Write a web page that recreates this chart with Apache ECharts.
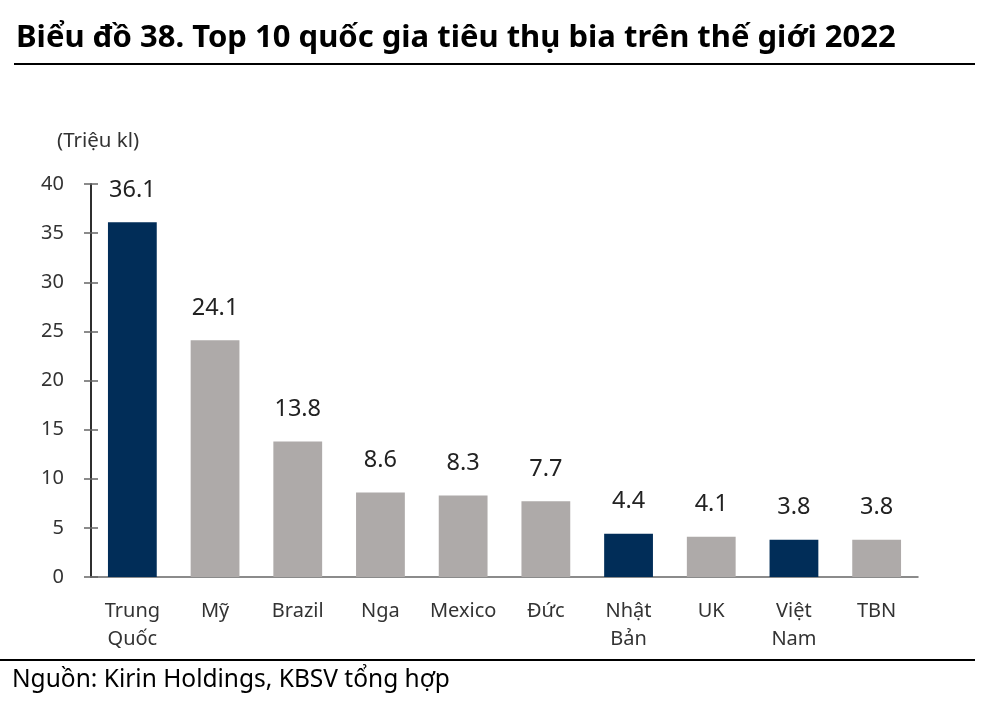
<!DOCTYPE html>
<html><head><meta charset="utf-8">
<script src="https://cdn.jsdelivr.net/npm/echarts@6/dist/echarts.min.js"></script>
<style>html,body{margin:0;padding:0;background:#fff}#c{width:1000px;height:705px}</style>
</head><body><div id="c"></div>
<script>
const categories = ['Trung\nQuốc','Mỹ','Brazil','Nga','Mexico','Đức','Nhật\nBản','UK','Việt\nNam','TBN'];
const values = [36.1, 24.1, 13.8, 8.6, 8.3, 7.7, 4.4, 4.1, 3.8, 3.8];
const highlighted = ['Trung\nQuốc','Nhật\nBản','Việt\nNam'];
const yTicks = [0,5,10,15,20,25,30,35,40];

const FONT = '"Noto Sans", sans-serif';
const chart = echarts.init(document.getElementById('c'));
chart.setOption({
  animation: false,
  textStyle: {fontFamily: FONT},
  title: {
    text: 'Biểu đồ 38. Top 10 quốc gia tiêu thụ bia trên thế giới 2022',
    left: 11, top: 18,
    textStyle: {fontFamily: FONT, fontSize: 31, fontWeight: 'bold', color: '#000'}
  },
  graphic: [
    {type:'line', shape:{x1:14,y1:64,x2:975,y2:64}, style:{stroke:'#000',lineWidth:2}},
    {type:'line', shape:{x1:0,y1:660,x2:975,y2:660}, style:{stroke:'#000',lineWidth:2}},
    {type:'text', left:57, top:131, style:{text:'(Triệu kl)', font:'20.5px '+FONT, fill:'#333'}},
    {type:'text', left:12, top:668, style:{text:'Nguồn: Kirin Holdings, KBSV tổng hợp', font:'24.5px '+FONT, fill:'#000'}}
  ],
  grid: {left: 91, right: 82, top: 184, bottom: 128},
  xAxis: {
    type: 'category', data: categories,
    axisLine: {lineStyle: {color: '#666', width: 1.5}},
    axisTick: {inside: true, length: 7, lineStyle: {color: '#666', width: 1.5}},
    axisLabel: {interval: 0, hideOverlap: false, fontSize: 20, color: '#333', margin: 20, lineHeight: 28, fontFamily: FONT}
  },
  yAxis: [{
    type: 'value', min: 0, max: 40, interval: 5,
    axisLine: {show: true, lineStyle: {color: '#222', width: 1.5}},
    axisTick: {show: true, length: 7, lineStyle: {color: '#666', width: 1.5}},
    axisLabel: {fontSize: 20, color: '#333', margin: 27, fontFamily: FONT},
    splitLine: {show: false}
  },{
    type: 'value', min: 0, max: 40, interval: 5, position: 'left',
    axisLine: {show: true, lineStyle: {color: '#222', width: 1.5}},
    axisTick: {show: true, inside: true, length: 7, lineStyle: {color: '#666', width: 1.5}},
    axisLabel: {show: false}, splitLine: {show: false}
  }],
  series: [{
    type: 'bar', data: values, barWidth: '59%',
    itemStyle: {color: p => highlighted.includes(categories[p.dataIndex]) ? '#012d58' : '#aeaaa9'},
    label: {show: true, position: 'top', distance: 20, fontSize: 23.5, color: '#222', fontFamily: FONT,
            formatter: p => p.value.toFixed(1)}
  }]
});
</script></body></html>
